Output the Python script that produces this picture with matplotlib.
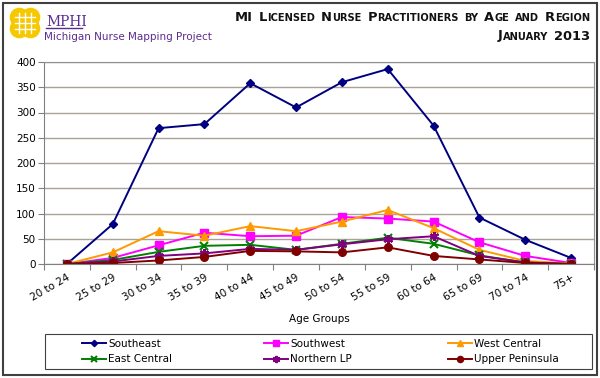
import matplotlib
matplotlib.use("Agg")
import matplotlib.pyplot as plt
from matplotlib.patches import Rectangle, Circle
from matplotlib.lines import Line2D

# datos
grupos = ["20 to 24", "25 to 29", "30 to 34", "35 to 39", "40 to 44", "45 to 49",
          "50 to 54", "55 to 59", "60 to 64", "65 to 69", "70 to 74", "75+"]
southeast = [0, 79, 269, 277, 358, 310, 360, 386, 274, 92, 48, 12]
southwest = [0, 12, 37, 62, 55, 56, 93, 90, 84, 43, 16, 2]
west_central = [0, 23, 65, 56, 75, 65, 84, 107, 71, 28, 6, 1]
east_central = [0, 8, 24, 36, 38, 28, 40, 52, 40, 17, 3, 0]
northern_lp = [0, 5, 16, 21, 30, 28, 39, 49, 55, 16, 3, 0]
upper_peninsula = [0, 2, 7, 14, 26, 25, 23, 33, 16, 9, 2, 0]

series = [
    ("Southeast", southeast, "#000080", "D", 4),
    ("Southwest", southwest, "#FF00FF", "s", 5.5),
    ("West Central", west_central, "#FF9900", "^", 5.5),
    ("East Central", east_central, "#008000", "x", 5.5),
    ("Northern LP", northern_lp, "#800080", (6, 2, 0), 6.5),
    ("Upper Peninsula", upper_peninsula, "#800000", "o", 5.5),
]

fig = plt.figure(figsize=(6, 3.78), dpi=100)
W, H = 600, 378

ax = fig.add_axes([44 / W, 1 - 264 / H, 550 / W, 202 / H])
x = list(range(len(grupos)))
for nombre, vals, col, mk, ms in series:
    ax.plot(x, vals, color=col, marker=mk, markersize=ms, lw=1.4,
            markeredgewidth=1.5 if mk in ("x", (6, 2, 0)) else 1, label=nombre)

ax.set_xlim(-0.5, len(grupos) - 0.5)
ax.set_ylim(0, 400)
ax.set_yticks(range(0, 401, 50))
ax.yaxis.grid(True, color="#a8a396", lw=1)
ax.set_axisbelow(True)
ax.set_xticks([i - 0.5 for i in range(len(grupos) + 1)])
ax.set_xticklabels([])
ax.set_xticks(x, minor=True)
ax.set_xticklabels(grupos, minor=True, rotation=30, ha="right", rotation_mode="anchor")
ax.tick_params(axis="x", which="minor", length=0, pad=6, labelsize=7.5)
ax.tick_params(axis="x", which="major", length=4, color="#808080")
ax.tick_params(axis="y", length=4, color="#808080", labelsize=7.5, pad=2)
for s in ax.spines.values():
    s.set_color("#909090")
ax.spines["left"].set_color("#808080")
ax.spines["bottom"].set_color("#808080")
ax.set_xlabel("Age Groups", fontsize=7.5, labelpad=8)

# leyenda en tres columnas dentro de un recuadro
fig.patches.append(Rectangle((45 / W, 1 - 369 / H), 547 / W, 35 / H, transform=fig.transFigure,
                             fill=False, edgecolor="#404040", lw=0.8))
handles = ax.get_legend_handles_labels()[0]
cols_x = [80, 262, 446]
for k in range(3):
    hs = [handles[k], handles[k + 3]]
    fig.legend(hs, [h.get_label() for h in hs], loc="upper left",
               bbox_to_anchor=(cols_x[k] / W, 1 - 337 / H), frameon=False,
               fontsize=7.5, handlelength=2.3, handletextpad=0.2, labelspacing=0.5,
               borderaxespad=0, borderpad=0.2, markerscale=0.8)

# borde de la figura
fig.patches.append(Rectangle((3 / W, 3 / H), 594 / W, 372 / H, transform=fig.transFigure,
                             fill=False, edgecolor="#404040", lw=1.5))

# logo aproximado
lax = fig.add_axes([6 / W, 1 - 42 / H, 38 / W, 38 / H])
lax.set_xlim(0, 38)
lax.set_ylim(0, 38)
lax.axis("off")
for dx, dy in [(-7, -7), (-7, 7), (7, -7), (7, 7)]:
    lax.add_patch(Circle((19 + dx * 0.8, 19 + dy * 0.8), 9, color="#F5C800"))
lax.add_patch(Circle((19, 19), 9, color="#F5C800"))
for p in [13, 19, 25]:
    lax.add_line(Line2D([9, 29], [p, p], color="white", lw=1))
    lax.add_line(Line2D([p, p], [9, 29], color="white", lw=1))
fig.text(46 / W, 1 - 26 / H, "MPHI", family="DejaVu Serif", fontsize=10, color="#5B2C8F")
fig.add_artist(Line2D([46 / W, 82 / W], [1 - 28 / H, 1 - 28 / H], color="#5B2C8F", lw=1))
fig.text(44 / W, 1 - 40 / H, "Michigan Nurse Mapping Project", fontsize=7.5, color="#5B2C8F")

# titulo en versalitas
renderer = fig.canvas.get_renderer()


def versalitas(texto, x_der, y_base, grande, chica):
    piezas = []
    for palabra in texto.split(" "):
        tramos = []
        for c in palabra:
            tam = chica if c.islower() else grande
            if tramos and tramos[-1][1] == tam:
                tramos[-1][0] += c.upper()
            else:
                tramos.append([c.upper(), tam])
        piezas.append(tramos)
    objs = []
    total = 0
    hueco = grande * 0.45 * fig.dpi / 72
    for i, tramos in enumerate(piezas):
        for s, tam in tramos:
            t = fig.text(0, y_base, s, fontsize=tam, weight="bold", va="baseline", color="#111111")
            w = t.get_window_extent(renderer).width
            objs.append((t, total))
            total += w
        if i < len(piezas) - 1:
            total += hueco
    x0 = x_der - total
    for t, off in objs:
        t.set_x((x0 + off) / W)


versalitas("MI Licensed Nurse Practitioners by Age and Region", 590, 1 - 21 / H, 9.4, 7.1)
versalitas("January 2013", 590, 1 - 39.5 / H, 9.4, 7.1)

fig.savefig("out.png", dpi=100)
